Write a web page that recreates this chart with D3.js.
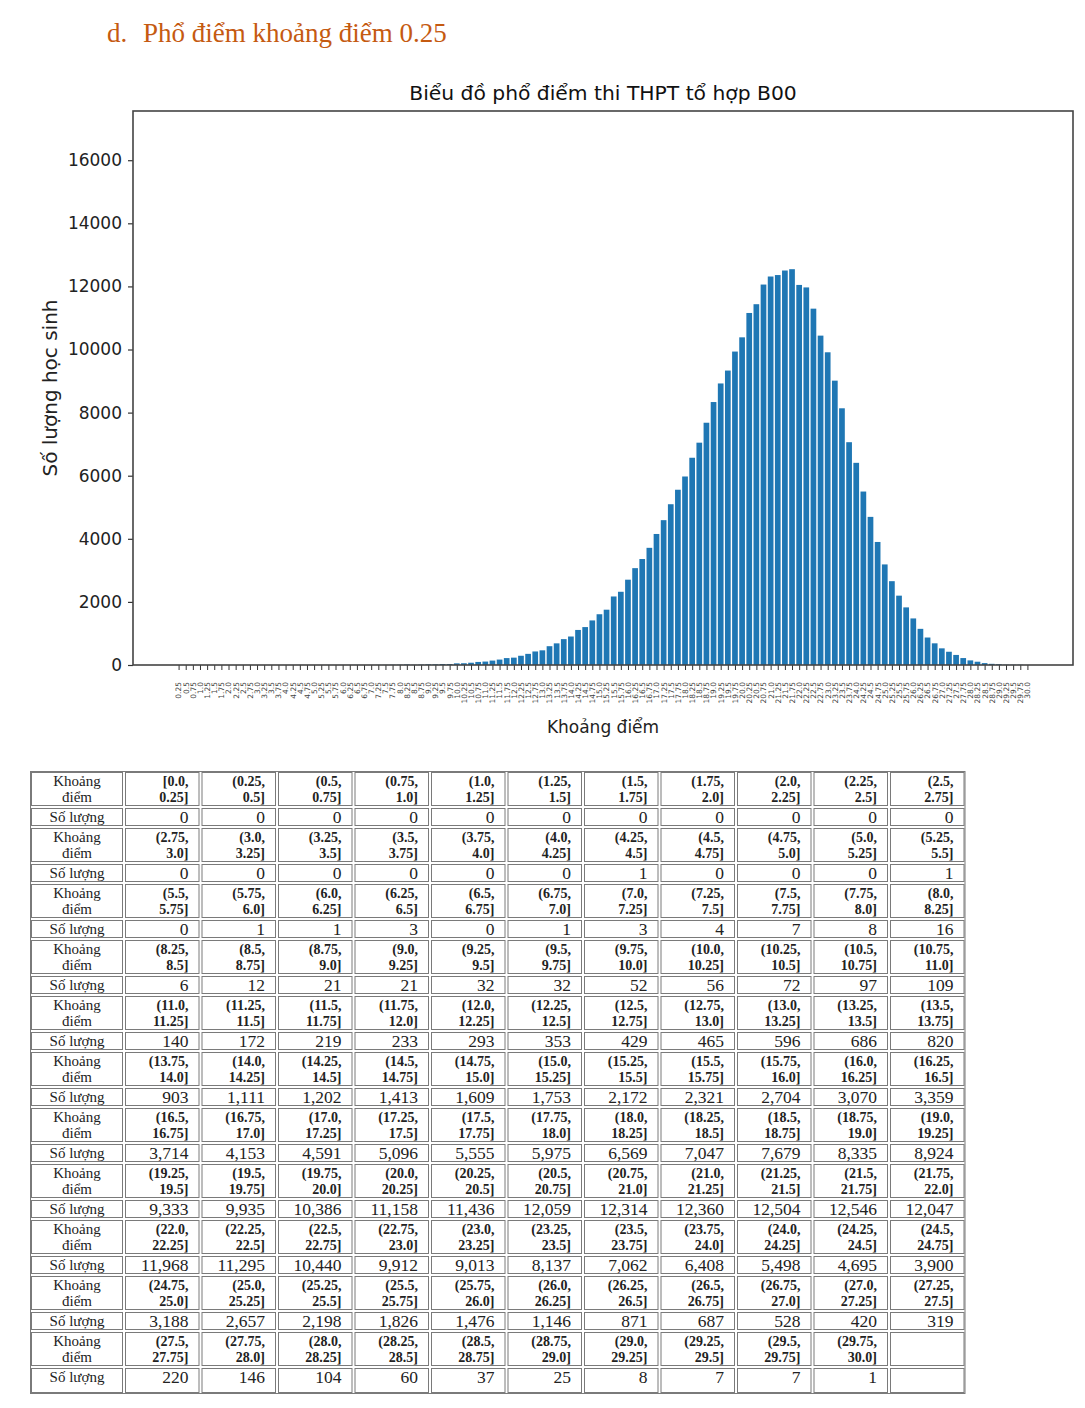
<!DOCTYPE html>
<html><head><meta charset="utf-8">
<script src="https://cdn.jsdelivr.net/npm/d3@7"></script>
<style>body{margin:0;background:#fff}svg{display:block}</style>
</head><body>
<svg id="c" width="1085" height="1408"></svg>
<script>
const edges = ["0.0","0.25","0.5","0.75","1.0","1.25","1.5","1.75","2.0","2.25","2.5","2.75","3.0","3.25","3.5","3.75","4.0","4.25","4.5","4.75","5.0","5.25","5.5","5.75","6.0","6.25","6.5","6.75","7.0","7.25","7.5","7.75","8.0","8.25","8.5","8.75","9.0","9.25","9.5","9.75","10.0","10.25","10.5","10.75","11.0","11.25","11.5","11.75","12.0","12.25","12.5","12.75","13.0","13.25","13.5","13.75","14.0","14.25","14.5","14.75","15.0","15.25","15.5","15.75","16.0","16.25","16.5","16.75","17.0","17.25","17.5","17.75","18.0","18.25","18.5","18.75","19.0","19.25","19.5","19.75","20.0","20.25","20.5","20.75","21.0","21.25","21.5","21.75","22.0","22.25","22.5","22.75","23.0","23.25","23.5","23.75","24.0","24.25","24.5","24.75","25.0","25.25","25.5","25.75","26.0","26.25","26.5","26.75","27.0","27.25","27.5","27.75","28.0","28.25","28.5","28.75","29.0","29.25","29.5","29.75","30.0"];
const categories = edges.slice(1);
const counts = [
 0,0,0,0,0,0,0,0,0,0,0,
 0,0,0,0,0,0,1,0,0,0,1,
 0,1,1,3,0,1,3,4,7,8,16,
 6,12,21,21,32,32,52,56,72,97,109,
 140,172,219,233,293,353,429,465,596,686,820,
 903,1111,1202,1413,1609,1753,2172,2321,2704,3070,3359,
 3714,4153,4591,5096,5555,5975,6569,7047,7679,8335,8924,
 9333,9935,10386,11158,11436,12059,12314,12360,12504,12546,12047,
 11968,11295,10440,9912,9013,8137,7062,6408,5498,4695,3900,
 3188,2657,2198,1826,1476,1146,871,687,528,420,319,
 220,146,104,60,37,25,8,7,7,1
];
const yTicks = [0,2000,4000,6000,8000,10000,12000,14000,16000];
const heading = "Phổ điểm khoảng điểm 0.25";
const chartTitle = "Biểu đồ phổ điểm thi THPT tổ hợp B00";
const xLabel = "Khoảng điểm";
const yLabel = "Số lượng học sinh";
const rowHead1 = ["Khoảng","điểm"];
const rowHead2 = "Số lượng";

const svg = d3.select("#c");
svg.append("rect").attr("width",1085).attr("height",1408).attr("fill","#fff");

// heading
svg.append("text").attr("x",107).attr("y",42).attr("font-family","Liberation Serif").attr("font-size",27)
  .attr("fill","#C55A11").text("d.");
svg.append("text").attr("x",143).attr("y",42).attr("font-family","Liberation Serif").attr("font-size",27)
  .attr("fill","#C55A11").text(heading);

// chart
const L=133,R=1073,T=111,B=665;
const x = d3.scaleLinear().domain([-6.39,125.39]).range([L,R]);
const y = d3.scaleLinear().domain([0,17560]).range([B,T]);
const g = svg.append("g");
g.selectAll("rect.bar").data(counts).join("rect").attr("class","bar")
  .attr("x",(d,i)=>x(i-0.4)).attr("width",x(0.8)-x(0))
  .attr("y",d=>y(d)).attr("height",d=>y(0)-y(d)).attr("fill","#1f77b4");

const xa = g.append("g").attr("transform",`translate(0,${B})`)
  .call(d3.axisBottom(x).tickValues(d3.range(categories.length)).tickFormat(i=>categories[i]).tickSize(5).tickSizeOuter(0));
xa.select(".domain").remove();
xa.selectAll(".tick line").attr("stroke","#333").attr("stroke-width",1);
xa.selectAll(".tick text").attr("font-family","DejaVu Sans").attr("font-size",7.5).attr("fill","#444")
  .attr("transform","rotate(-90)").attr("text-anchor","end").attr("x",-17).attr("y",0).attr("dy","0.32em");

const ya = g.append("g").attr("transform",`translate(${L},0)`)
  .call(d3.axisLeft(y).tickValues(yTicks).tickFormat(d3.format("d")).tickSize(5).tickSizeOuter(0));
ya.select(".domain").remove();
ya.selectAll(".tick line").attr("stroke","#333").attr("stroke-width",1.2);
ya.selectAll(".tick text").attr("font-family","DejaVu Sans").attr("font-size",17).attr("fill","#222").attr("x",-11);

g.append("rect").attr("x",L).attr("y",T).attr("width",R-L).attr("height",B-T)
  .attr("fill","none").attr("stroke","#444").attr("stroke-width",1.6);

svg.append("text").attr("x",(L+R)/2).attr("y",100).attr("text-anchor","middle")
  .attr("font-family","DejaVu Sans").attr("font-size",20.3).attr("fill","#111").text(chartTitle);
svg.append("text").attr("x",(L+R)/2).attr("y",733).attr("text-anchor","middle")
  .attr("font-family","DejaVu Sans").attr("font-size",17).attr("fill","#222").text(xLabel);
svg.append("text").attr("transform",`translate(57,${(T+B)/2}) rotate(-90)`).attr("text-anchor","middle")
  .attr("font-family","DejaVu Sans").attr("font-size",20).attr("fill","#222").text(yLabel);

// table
const tL=30, hW=94, cW=76.5, nCols=11, tTop=771, hH=36, vH=20, blockH=56;
const nBlocks = Math.ceil(counts.length/nCols);
const tb = svg.append("g");
const fmt = d3.format(",");
const cellStroke="#7a7a7a";
const tBottom = tTop + (nBlocks-1)*blockH + hH + 27;
tb.append("rect").attr("x",tL+0.5).attr("y",tTop+0.5).attr("width",hW+nCols*cW-1).attr("height",tBottom-tTop-1)
  .attr("fill","none").attr("stroke",cellStroke);
function cell(x0,y0,w,h){
  tb.append("rect").attr("x",x0+1.5).attr("y",y0+1.5).attr("width",w-3).attr("height",h-3)
    .attr("fill","none").attr("stroke",cellStroke);
}
for(let b=0;b<nBlocks;b++){
  const top = tTop + b*blockH;
  const vh = (b===nBlocks-1)?27:vH;
  cell(tL,top,hW,hH); cell(tL,top+hH,hW,vh);
  const cx = tL+hW/2;
  tb.append("text").attr("x",cx).attr("y",top+15).attr("text-anchor","middle").attr("font-family","Liberation Serif").attr("font-size",15).attr("fill","#222").text(rowHead1[0]);
  tb.append("text").attr("x",cx).attr("y",top+31).attr("text-anchor","middle").attr("font-family","Liberation Serif").attr("font-size",15).attr("fill","#222").text(rowHead1[1]);
  tb.append("text").attr("x",cx).attr("y",top+hH+15).attr("text-anchor","middle").attr("font-family","Liberation Serif").attr("font-size",15).attr("fill","#222").text(rowHead2);
  for(let c=0;c<nCols;c++){
    const i=b*nCols+c;
    const x0=tL+hW+c*cW;
    cell(x0,top,cW,hH); cell(x0,top+hH,cW,vh);
    if(i>=counts.length) continue;
    const rx = x0+cW-12;
    const open = i===0?"[":"(";
    tb.append("text").attr("x",rx).attr("y",top+15).attr("text-anchor","end").attr("font-family","Liberation Serif").attr("font-weight","bold").attr("font-size",14).attr("fill","#222").text(open+edges[i]+",");
    tb.append("text").attr("x",rx).attr("y",top+31).attr("text-anchor","end").attr("font-family","Liberation Serif").attr("font-weight","bold").attr("font-size",14).attr("fill","#222").text(edges[i+1]+"]");
    tb.append("text").attr("x",rx).attr("y",top+hH+16).attr("text-anchor","end").attr("font-family","Liberation Serif").attr("font-size",17.5).attr("fill","#222").text(fmt(counts[i]));
  }
}
</script>
</body></html>
